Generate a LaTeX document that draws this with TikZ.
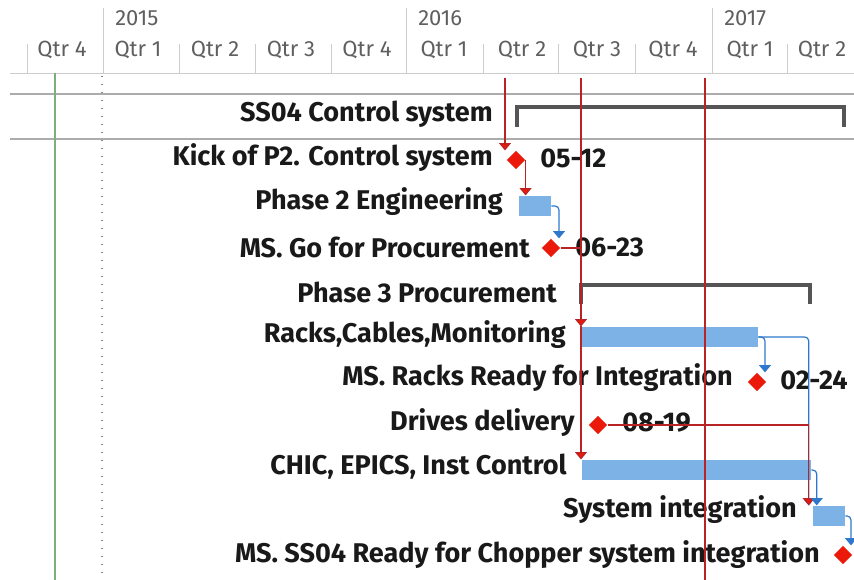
\documentclass[tikz,border=0pt]{standalone}
\usepackage{fontspec}
\setmainfont{Fira Sans}
\usepackage{xcolor}
\usetikzlibrary{arrows.meta, positioning, shapes.geometric}
\definecolor{linkred}{RGB}{185, 35, 35}
\definecolor{msred}{RGB}{235, 25, 10}
\definecolor{barblue}{RGB}{125, 178, 230}
\definecolor{linkblue}{RGB}{45, 120, 205}
\definecolor{sumgray}{RGB}{85, 85, 85}
\definecolor{hdrgray}{RGB}{95, 95, 95}
\definecolor{gridgray}{RGB}{205, 205, 205}
\definecolor{todaygreen}{RGB}{125, 175, 125}

\begin{document}
\begin{tikzpicture}[
  x=0.75pt, y=-0.75pt,
  every node/.style={font=\fontsize{20.3}{24}\selectfont\bfseries, inner sep=0pt},
  task/.style={anchor=east, text=black!90},
  date/.style={anchor=west, text=black!90},
  hdr/.style={font=\fontsize{16.5}{19}\selectfont, text=hdrgray},
  bar/.style={fill=barblue, minimum height=15.5pt},
  ms/.style={diamond, fill=msred, minimum width=14pt, minimum height=14pt},
  redlink/.style={-{Triangle[width=9pt, length=5.5pt, fill=msred]}, color=linkred, line width=0.9pt},
  redline/.style={color=linkred, line width=0.9pt},
  bluelink/.style={-{Triangle[width=9pt, length=5.5pt]}, color=linkblue, line width=0.9pt, rounded corners=3pt},
  summary/.style={draw=sumgray, line width=3pt},
  grid/.style={draw=gridgray, line width=0.6pt},
  rowline/.style={draw=gray!65, line width=1.3pt}
]
  \useasboundingbox (0,0) rectangle (854,580);

  % Zeitachse
  \node[hdr, anchor=west] (y2015) at (115,18) {2015};
  \node[hdr, anchor=west] (y2016) at (418,18) {2016};
  \node[hdr, anchor=west] (y2017) at (724,18) {2017};
  \node[hdr] (q14d) at (62,50) {Qtr 4};
  \node[hdr] (q15a) at (138,50) {Qtr 1};
  \node[hdr] (q15b) at (215,50) {Qtr 2};
  \node[hdr] (q15c) at (291,50) {Qtr 3};
  \node[hdr] (q15d) at (367,50) {Qtr 4};
  \node[hdr] (q16a) at (444,50) {Qtr 1};
  \node[hdr] (q16b) at (522,50) {Qtr 2};
  \node[hdr] (q16c) at (597,50) {Qtr 3};
  \node[hdr] (q16d) at (673,50) {Qtr 4};
  \node[hdr] (q17a) at (750,50) {Qtr 1};
  \node[hdr] (q17b) at (822,50) {Qtr 2};

  \draw[grid] (103,8) -- (103,73) (406,8) -- (406,73) (712,8) -- (712,73);
  \draw[grid] (27,44) -- (27,73) (179,44) -- (179,73) (255,44) -- (255,73)
    (331,44) -- (331,73) (483,44) -- (483,73) (558,44) -- (558,73)
    (635,44) -- (635,73) (787,44) -- (787,73);
  \draw[grid] (10,73) -- (854,73);
  \draw[rowline] (10,94) -- (854,94) (10,139) -- (854,139);
  \draw[todaygreen, line width=1pt] (55,73) -- (55,580);
  \draw[gray, line width=0.9pt, dash pattern=on 0.8pt off 5.2pt] (102,76) -- (102,580);

  % Vorgaenge
  \node[task] (ss04) at (493,114) {SS04 Control system};
  \node[task] (kickt) at (493,158) {Kick of P2. Control system};
  \node[task] (p2engt) at (503,202) {Phase 2 Engineering};
  \node[task] (msgot) at (530,247) {MS. Go for Procurement};
  \node[task] (p3t) at (557,292) {Phase 3 Procurement};
  \node[task] (rackst) at (566,335) {Racks,Cables,Monitoring};
  \node[task] (msrackst) at (733,378) {MS. Racks Ready for Integration};
  \node[task] (drivest) at (575,423) {Drives delivery};
  \node[task] (chict) at (567,467) {CHIC, EPICS, Inst Control};
  \node[task] (sysintt) at (797,510) {System integration};
  \node[task] (msss04t) at (820,555) {MS. SS04 Ready for Chopper system integration};

  % Balken und Meilensteine
  \draw[summary] (517,127) |- (844,107) -- (844,127);
  \draw[summary] (581,304) |- (810,285) -- (810,304);
  \node[ms] (kick) at (516,160) {};
  \node[bar, minimum width=24pt] (p2eng) at (535,206) {};
  \node[ms] (msgo) at (551,248) {};
  \node[bar, minimum width=132pt] (racks) at (670,337) {};
  \node[ms] (msracks) at (757,382) {};
  \node[ms] (drives) at (598,425) {};
  \node[bar, minimum width=171.75pt] (chic) at (696.5,470) {};
  \node[bar, minimum width=24pt] (sysint) at (829,516) {};
  \node[ms] (msss04) at (843,555) {};

  \node[date] (d0512) at (540,158) {05-12};
  \node[date] (d0623) at (575,247) {06-23};
  \node[date] (d0224) at (780,380) {02-24};
  \node[date] (d0819) at (622,423) {08-19};

  % Verknuepfungen
  \coordinate (topA) at (505,78);
  \coordinate (topB) at (581,78);
  \coordinate (topC) at (705,78);
  \coordinate (botC) at (705,580);
  \draw[redlink] (topA) -- (topA |- kick.north);
  \draw[redlink] (kick.east) -- (kick.east |- p2eng.north);
  \draw[bluelink] (p2eng.east) -| ([xshift=6pt]msgo.north);
  \draw[redline] (topB) -- (topB |- msgo.east);
  \draw[redline] (msgo.east) -- (topB |- msgo.east);
  \draw[redlink] (topB |- msgo.east) -- (topB |- racks.north);
  \draw[redlink] (topB |- racks.north) -- (topB |- chic.north);
  \draw[redline] (topC) -- (botC);
  \draw[bluelink] (racks.east) -| ([xshift=6pt]msracks.north);
  \draw[bluelink] (racks.east) -| ([xshift=-3pt]sysint.north west);
  \draw[redlink] (drives.east) -| ([xshift=-3pt]sysint.north west);
  \draw[bluelink] (chic.east) -| ([xshift=3pt]sysint.north west);
  \draw[bluelink] (sysint.east) -| ([xshift=6pt]msss04.north);

\end{tikzpicture}
\end{document}
